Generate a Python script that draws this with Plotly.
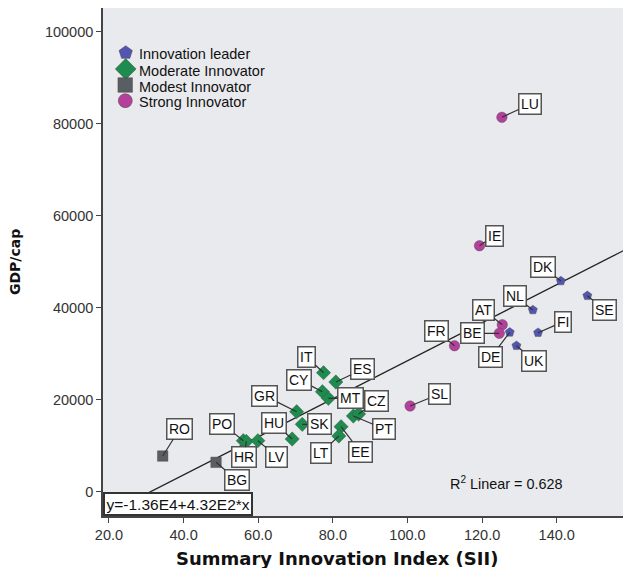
import plotly.graph_objects as go

# ---- data ----
leader_names = ["DK", "SE", "NL", "FI", "UK", "DE"]
leader_sii = [141.1, 148.2, 133.6, 135.0, 129.2, 127.4]
leader_gdp = [45810, 42610, 39500, 34570, 31740, 34650]

moderate_names = ["IT", "ES", "CY", "MT", "GR", "SK", "PT", "CZ", "EE", "LT", "PO", "HR", "LV", "HU"]
moderate_sii = [77.5, 80.8, 77.2, 78.8, 70.3, 71.8, 85.5, 86.9, 82.2, 81.6, 56.0, 56.8, 59.9, 69.1]
moderate_gdp = [25870, 23850, 21740, 20310, 17390, 14650, 16460, 16890, 14130, 12110, 11090, 10950, 11090, 11460]

modest_names = ["RO", "BG"]
modest_sii = [34.4, 48.7]
modest_gdp = [7760, 6390]

strong_names = ["LU", "IE", "AT", "BE", "FR", "SL"]
strong_sii = [125.3, 119.3, 125.4, 124.6, 112.6, 100.7]
strong_gdp = [81400, 53480, 36310, 34440, 31740, 18630]

fit_intercept = -12870
fit_slope = 413.5
fit_label = "y=-1.36E4+4.32E2*x"
r2_label = "R<sup>2</sup> Linear = 0.628"

x_ticks = [20, 40, 60, 80, 100, 120, 140]
y_ticks = [0, 20000, 40000, 60000, 80000, 100000]
x_range = [18.4, 159.9]
y_range = [-5280, 105160]

# ---- label offsets (pixels, box centre relative to point) ----
label_offsets = {
    "LU": (28, -13), "IE": (15, -10), "DK": (-18, -14), "SE": (17, 14),
    "NL": (-18, -14), "FI": (25, -11), "UK": (18, 15), "DE": (-19, 25),
    "AT": (-19, -15), "BE": (-27, 0), "FR": (-18, -15), "SL": (29, -12),
    "IT": (-17, -16), "ES": (27, -13), "CY": (-23, -12), "MT": (22, 0),
    "CZ": (18, -13), "PT": (31, 13), "SK": (17, 0), "GR": (-32, -16),
    "HU": (-18, -16), "LT": (-18, 17), "EE": (19, 25), "PO": (-21, -17),
    "HR": (-2, 16), "LV": (19, 16), "RO": (17, -27), "BG": (21, 18),
}

FONT = "Liberation Sans, Arial, sans-serif"
BOLD = "DejaVu Sans, sans-serif"

# plot area geometry (figure pixels)
L, T, PW, PH = 95, 0, 528, 508
W, H = L + PW, 560

fig = go.Figure()

groups = [
    ("Innovation leader", leader_names, leader_sii, leader_gdp, "pentagon", "#5356b0", 9.5, 14),
    ("Moderate Innovator", moderate_names, moderate_sii, moderate_gdp, "diamond", "#1e8c4e", 11, 16),
    ("Modest Innovator", modest_names, modest_sii, modest_gdp, "square", "#5a5e63", 10.5, 14.5),
    ("Strong Innovator", strong_names, strong_sii, strong_gdp, "circle", "#b4409c", 10.5, 14),
]

# fit line
fx = [x_range[0], x_range[1]]
fy = [fit_intercept + fit_slope * v for v in fx]
fig.add_trace(go.Scatter(x=fx, y=fy, mode="lines", line=dict(color="#222222", width=1.3),
                         showlegend=False, hoverinfo="skip"))

for name, names, xs, ys, sym, col, sz, lsz in groups:
    fig.add_trace(go.Scatter(
        x=xs, y=ys, mode="markers", name=name, text=names, showlegend=False,
        marker=dict(symbol=sym, color=col, size=sz, line=dict(color="#444444", width=0.4)),
    ))
    for n, xv, yv in zip(names, xs, ys):
        ax, ay = label_offsets[n]
        fig.add_annotation(
            x=xv, y=yv, text=n, showarrow=True, ax=ax, ay=ay,
            arrowhead=0, arrowwidth=1.2, arrowcolor="#333333", standoff=0,
            bgcolor="white", bordercolor="#555555", borderwidth=1.5, borderpad=1.5,
            font=dict(family=FONT, size=14, color="#111111"),
        )

# manual legend on an overlay axis measured in plot pixels from the top-left
leg_x = [22.7, 22.7, 22.2, 22.3]
leg_y = [44.7, 61.0, 77.0, 92.7]
for (name, _, _, _, sym, col, sz, lsz), lx, ly in zip(groups, leg_x, leg_y):
    fig.add_trace(go.Scatter(
        x=[lx], y=[ly], xaxis="x2", yaxis="y2", mode="markers", showlegend=False,
        hoverinfo="skip",
        marker=dict(symbol=sym, color=col, size=lsz, line=dict(color="#444444", width=0.5)),
    ))
    fig.add_annotation(x=33.7, y=ly + 1.5, xref="x2", yref="y2", xanchor="left",
                       yanchor="middle", text=name, showarrow=False,
                       font=dict(family=FONT, size=14.5, color="#111111"))

fig.add_annotation(
    x=0, y=0, xref="paper", yref="paper", xanchor="left", yanchor="bottom",
    text=fit_label, showarrow=False, bgcolor="white", bordercolor="#333333",
    borderwidth=2, borderpad=1.5, font=dict(family=FONT, size=15.5, color="#111111"),
)
fig.add_annotation(
    x=(506 - 103) / PW, y=(516 - 482.7) / PH, xref="paper", yref="paper", text=r2_label,
    xanchor="center", yanchor="middle",
    showarrow=False, font=dict(family=FONT, size=14.4, color="#111111"),
)
fig.add_annotation(
    x=(15 - 103) / PW, y=0.5, xref="paper", yref="paper", text="<b>GDP/cap</b>",
    xanchor="center", yanchor="middle",
    textangle=-90, showarrow=False, font=dict(family=BOLD, size=14, color="#111111"),
)
fig.add_annotation(
    x=(337 - 103) / PW, y=-(558 - 516) / PH, xref="paper", yref="paper",
    xanchor="center", yanchor="middle",
    text="<b>Summary Innovation Index (SII)</b>", showarrow=False,
    font=dict(family=BOLD, size=18, color="#111111"),
)

fig.update_layout(
    width=W, height=H,
    margin=dict(l=L, r=0, t=T, b=H - T - PH, autoexpand=False),
    paper_bgcolor="white", plot_bgcolor="#e9eaed",
    font=dict(family=FONT, size=13, color="#222222"),
    showlegend=False,
    xaxis=dict(range=x_range, tickvals=x_ticks, tickformat=".1f", showgrid=False, zeroline=False,
               showline=True, linecolor="#444444", linewidth=1.6, mirror=True,
               ticks="outside", ticklen=5, tickcolor="#444444",
               tickfont=dict(family=FONT, size=14.5, color="#333333")),
    yaxis=dict(range=y_range, tickvals=y_ticks, tickformat="d", showgrid=False, zeroline=False,
               showline=True, linecolor="#444444", linewidth=1.6,
               ticks="outside", ticklen=5, tickcolor="#444444",
               tickfont=dict(family=FONT, size=14.5, color="#333333")),
    xaxis2=dict(overlaying="x", range=[0, PW], visible=False, fixedrange=True),
    yaxis2=dict(overlaying="y", range=[PH, 0], visible=False, fixedrange=True),
)

fig.write_html("out.html")
